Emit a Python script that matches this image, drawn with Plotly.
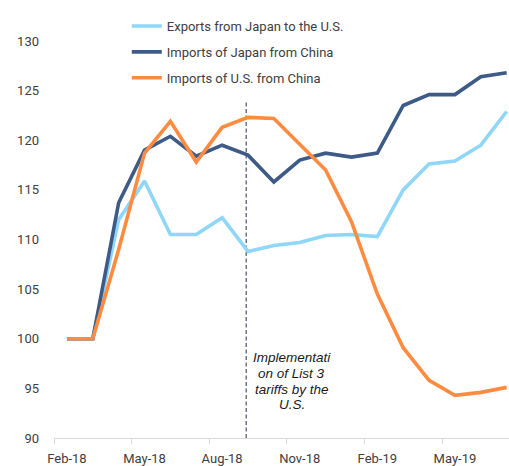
import plotly.graph_objects as go

months = ["Feb-18", "Mar-18", "Apr-18", "May-18", "Jun-18", "Jul-18", "Aug-18", "Sep-18",
          "Oct-18", "Nov-18", "Dec-18", "Jan-19", "Feb-19", "Mar-19", "Apr-19", "May-19",
          "Jun-19", "Jul-19"]

exports_jp_to_us = [100, 100, 112.0, 115.9, 110.5, 110.5, 112.2, 108.8, 109.4, 109.7,
                    110.4, 110.5, 110.3, 115.0, 117.6, 117.9, 119.5, 122.9]
imports_jp_from_cn = [100, 100, 113.7, 119.0, 120.4, 118.4, 119.5, 118.5, 115.8, 118.0,
                      118.7, 118.3, 118.7, 123.5, 124.6, 124.6, 126.4, 126.8]
imports_us_from_cn = [100, 100, 109.0, 118.7, 121.9, 117.8, 121.3, 122.3, 122.2, 119.6,
                      117.0, 111.8, 104.5, 99.1, 95.8, 94.3, 94.6, 95.1]

series_names = ["Exports from Japan to the U.S.", "Imports of Japan from China",
                "Imports of U.S. from China"]
series_values = [exports_jp_to_us, imports_jp_from_cn, imports_us_from_cn]
series_colors = ["#8fd6f9", "#3e5a87", "#ff8b40"]

annotation_lines = ["Implementati", "on of List 3", "tariffs by the", "U.S."]
event_month = "Sep-18"

fig = go.Figure()
for name, vals, col in zip(series_names, series_values, series_colors):
    fig.add_trace(go.Scatter(
        x=months, y=vals, mode="lines", name=name, legendgroup=name,
        line=dict(color=col, width=3.6),
    ))

# dashed vertical event line
fig.add_shape(type="line", xref="x", yref="y", x0=months.index(event_month) - 0.07,
              x1=months.index(event_month) - 0.07, y0=90, y1=123.8,
              line=dict(color="#44546a", width=1.2, dash="4px,2.5px"), layer="below")

ann_x = 8.7
ann_y = [98.1, 96.5, 94.9, 93.4]
for txt, yy in zip(annotation_lines, ann_y):
    fig.add_annotation(x=ann_x, y=yy, xref="x", yref="y", text="<i>" + txt + "</i>",
                       showarrow=False, xanchor="center", yanchor="middle",
                       font=dict(family="Liberation Sans, Arial", size=13.5, color="#1a1a1a"))

fig.update_layout(
    width=509, height=466,
    margin=dict(l=54, r=0, t=41, b=28, autoexpand=False),
    paper_bgcolor="white", plot_bgcolor="white",
    font=dict(family="Roboto", size=13, color="#404040"),
    legend=dict(x=0.160, y=1.0756, xanchor="left", yanchor="top",
                traceorder="grouped", tracegroupgap=6,
                font=dict(family="Roboto", size=13, color="#404040"),
                bgcolor="rgba(0,0,0,0)"),
    showlegend=True,
)
fig.update_xaxes(
    type="category", range=[-0.5, 17.09], tickson="boundaries", dtick=3, tick0=0,
    tickangle=0, automargin=False, ticklabelstandoff=8,
    showline=True, linecolor="#d9d9d9", linewidth=1,
    ticks="outside", ticklen=5, tickcolor="#d9d9d9",
    showgrid=False, zeroline=False,
    tickfont=dict(family="Roboto", size=13, color="#404040"),
)
fig.update_yaxes(
    range=[90, 130], dtick=5, tick0=90, showgrid=False, zeroline=False, showline=False,
    ticks="", ticklabelstandoff=14, automargin=False,
    tickfont=dict(family="Roboto", size=13, color="#404040"),
)

fig.write_html(
    "out.html",
    config={"displayModeBar": False},
    post_script="document.body.style.margin='0';document.body.style.overflow='hidden';",
)
